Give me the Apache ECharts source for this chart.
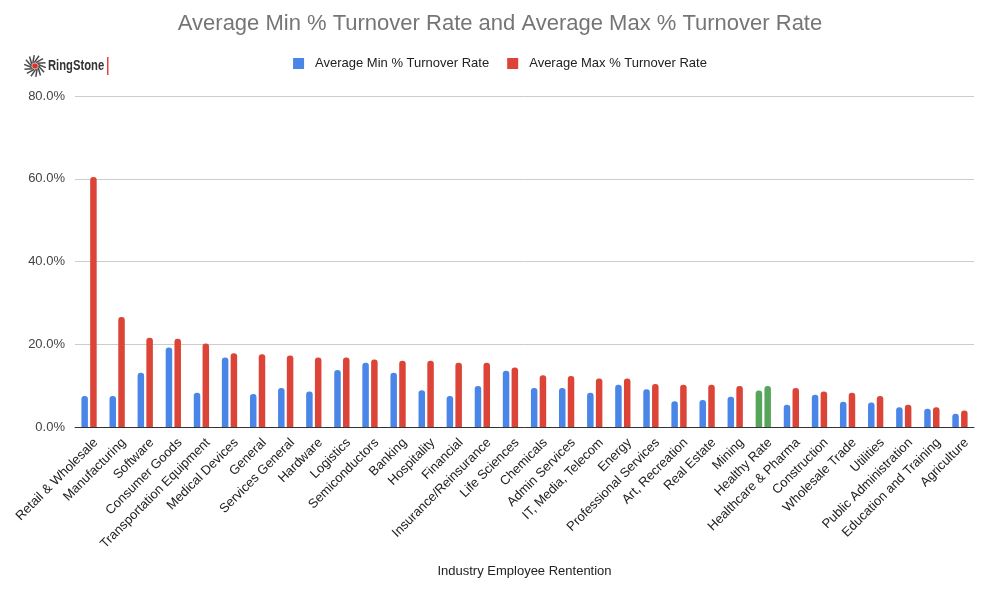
<!DOCTYPE html>
<html>
<head>
    <meta http-equiv="Content-Type" content="text/html; charset=utf-8"/>
    <title>Turnover rate</title>
    <style type="text/css">
        body, #chart {
            border: 0px;
            margin: 0px;
            padding: 0px;
            width: 1000px;
            height: 591px;
            background: #ffffff;
        }
    </style>
    <script type="text/javascript" src="https://cdn.jsdelivr.net/npm/echarts@6/dist/echarts.min.js"></script>
</head>
<body>
<div id="chart"></div>
<script type="text/javascript">
    var industries = ['Retail & Wholesale', 'Manufacturing', 'Software', 'Consumer Goods',
        'Transportation Equipment', 'Medical Devices', 'General', 'Services General', 'Hardware',
        'Logistics', 'Semiconductors', 'Banking', 'Hospitality', 'Financial', 'Insurance/Reinsurance',
        'Life Sciences', 'Chemicals', 'Admin Services', 'IT, Media, Telecom', 'Energy',
        'Professional Services', 'Art, Recreation', 'Real Estate', 'Mining', 'Healthy Rate',
        'Healthcare & Pharma', 'Construction', 'Wholesale Trade', 'Utilities',
        'Public Administration', 'Education and Training', 'Agriculture'];
    var minRate = [7.5, 7.5, 13.1, 19.2, 8.3, 16.8, 8.0, 9.4, 8.6, 13.8, 15.5, 13.1, 8.9, 7.5, 9.9,
        13.6, 9.4, 9.4, 8.3, 10.2, 9.1, 6.2, 6.5, 7.3, 8.8, 5.4, 7.8, 6.1, 5.9, 4.8, 4.4, 3.2];
    var maxRate = [60.4, 26.6, 21.6, 21.3, 20.2, 17.8, 17.6, 17.3, 16.8, 16.8, 16.3, 16.0, 16.0, 15.5, 15.5,
        14.4, 12.5, 12.3, 11.7, 11.7, 10.4, 10.2, 10.2, 9.9, 9.9, 9.4, 8.6, 8.3, 7.5, 5.4, 4.8, 4.0];
    var highlight = 'Healthy Rate';
    var yTicks = [0, 20, 40, 60, 80];

    var blue = '#4a86e8', red = '#db4437', green = '#57a55a';

    function paint(values) {
        return values.map(function (v, i) {
            if (industries[i] === highlight) {
                return {value: v, itemStyle: {color: green}};
            }
            return v;
        });
    }

    // logo icon: radial strokes round a red dot
    var logo = [];
    for (var i = 0; i < 14; i++) {
        var a = i * Math.PI / 7;
        logo.push({
            type: 'line',
            shape: {
                x1: 35 + Math.cos(a) * 3.5, y1: 66 + Math.sin(a) * 3.5,
                x2: 35 + Math.cos(a + 0.6) * 11, y2: 66 + Math.sin(a + 0.6) * 11
            },
            style: {stroke: '#4a4a4a', lineWidth: 1.5}
        });
    }
    logo.push({type: 'circle', shape: {cx: 35, cy: 66, r: 2.8}, style: {fill: '#d9342b'}});
    logo.push({
        type: 'text', x: 48, y: 58, scaleX: 0.75,
        style: {text: 'RingStone', font: 'bold 15px "Liberation Sans", Arial, sans-serif', fill: '#333'}
    });
    logo.push({type: 'rect', shape: {x: 107, y: 57, width: 1.5, height: 18}, style: {fill: '#e0443a'}});

    var myChart = echarts.init(document.getElementById('chart'));
    myChart.setOption({
        animation: false,
        backgroundColor: '#ffffff',
        textStyle: {fontFamily: '"Liberation Sans", Arial, sans-serif'},
        title: {
            text: 'Average Min % Turnover Rate and Average Max % Turnover Rate',
            left: 'center',
            top: 8,
            textStyle: {fontSize: 22, fontWeight: 'normal', color: '#757575'}
        },
        legend: {
            top: 52,
            left: 'center',
            itemWidth: 11,
            itemHeight: 11,
            itemGap: 18,
            icon: 'rect',
            textStyle: {fontSize: 13, color: '#222', padding: [0, 0, 0, 6]},
            data: ['Average Min % Turnover Rate', 'Average Max % Turnover Rate']
        },
        graphic: logo,
        grid: {left: 75, right: 26, top: 96, bottom: 164},
        xAxis: {
            type: 'category',
            data: industries,
            name: 'Industry Employee Rentention',
            nameLocation: 'middle',
            nameGap: 138,
            nameTextStyle: {fontSize: 13, color: '#222'},
            axisTick: {show: false},
            axisLine: {lineStyle: {color: '#333', width: 1}},
            axisLabel: {
                rotate: 45, fontSize: 13, color: '#222', margin: 7, interval: 0,
                verticalAlign: 'top', padding: [3, 0, 0, 0]
            }
        },
        yAxis: {
            type: 'value',
            min: yTicks[0],
            max: yTicks[yTicks.length - 1],
            interval: 20,
            axisLine: {show: false},
            axisTick: {show: false},
            splitLine: {lineStyle: {color: '#cccccc'}},
            axisLabel: {
                fontSize: 13, color: '#444', margin: 10,
                formatter: function (v) { return v.toFixed(1) + '%'; }
            }
        },
        series: [
            {
                name: 'Average Min % Turnover Rate',
                type: 'bar',
                data: paint(minRate),
                barWidth: 6.5,
                barGap: '35%',
                itemStyle: {color: blue, borderRadius: [3, 3, 0, 0]}
            },
            {
                name: 'Average Max % Turnover Rate',
                type: 'bar',
                data: paint(maxRate),
                barWidth: 6.5,
                itemStyle: {color: red, borderRadius: [3, 3, 0, 0]}
            }
        ]
    });
</script>
</body>
</html>
